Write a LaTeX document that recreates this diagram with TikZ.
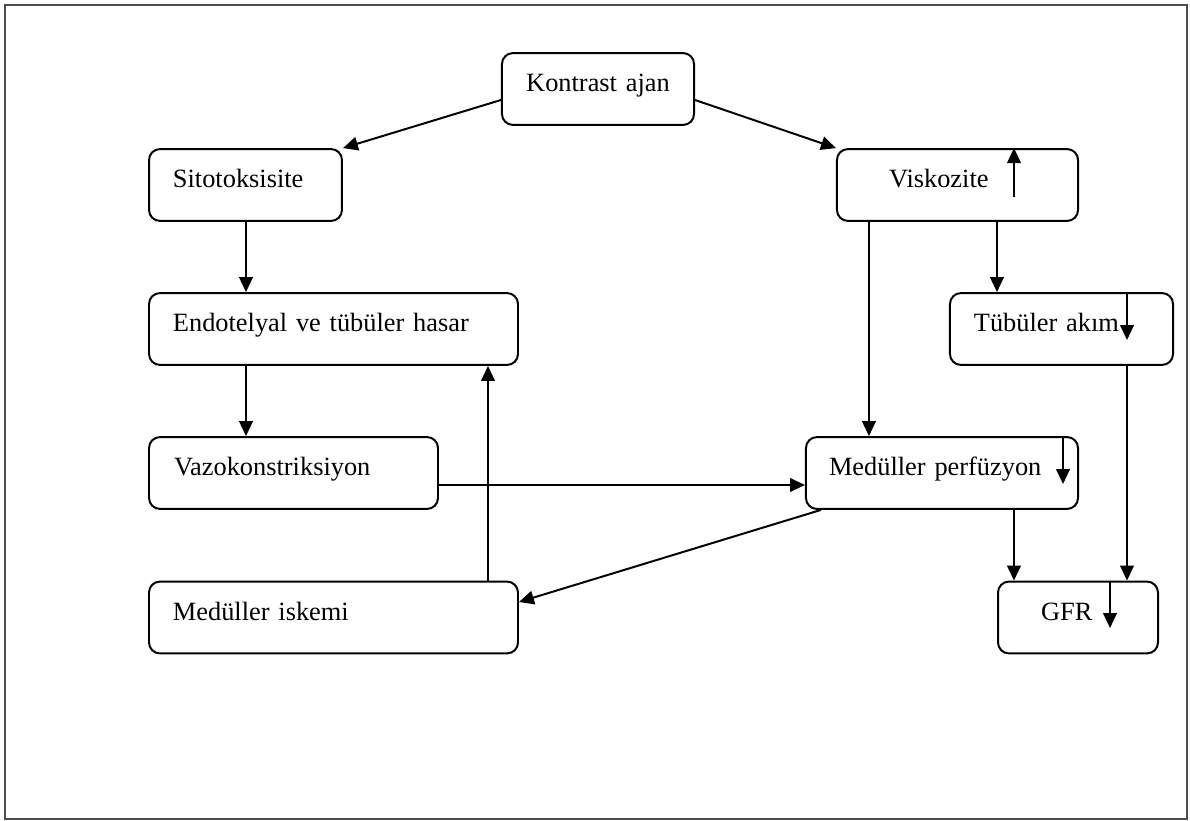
\documentclass[tikz,border=0pt]{standalone}
\usepackage{fontspec}
\setmainfont{Liberation Serif}
\usetikzlibrary{arrows.meta, calc, positioning}
\tikzset{
    boxnode/.style 2 args = {draw, rectangle, rounded corners=5pt, line width=0.9pt,
      minimum height=32.7pt, inner xsep=#1, text width=#2, align=left,
      text height=6.5pt, text depth=4pt, font=\fontsize{12}{14}\selectfont},
    connect/.style = {black, line width=0.9pt, -{Triangle[length=6.8pt, width=6.2pt]}},
    framebox/.style = {draw=black!70, line width=0.6pt}
}

\begin{document}
\begin{tikzpicture}[x=0.455pt, y=-0.455pt]
    \useasboundingbox (0,0) rectangle (1190,821);
    \draw[framebox] (5,5) rectangle (1187,819);

    \node[boxnode={10pt}{67.4pt}, align=center, name=kontrast] at (598,89) {Kontrast ajan};
    \node[boxnode={10.9pt}{66pt}, name=sito] at (245.5,185) {Sitotoksisite};
    \node[boxnode={23.7pt}{62.3pt}, name=visko] at (957.5,185) {Viskozite};
    \node[boxnode={10.9pt}{146.1pt}, name=endo] at (333.5,329) {Endotelyal ve tübüler hasar};
    \node[boxnode={10.9pt}{79.7pt}, name=tubuler] at (1061.5,329) {Tübüler akım};
    \node[boxnode={11.4pt}{108.7pt}, name=vazo] at (293.5,473) {Vazokonstriksiyon};
    \node[boxnode={10.5pt}{102.8pt}, name=medperf] at (942,473) {Medüller perfüzyon};
    \node[boxnode={10.9pt}{146.1pt}, name=iskemi] at (333.5,617.5) {Medüller iskemi};
    \node[boxnode={19.6pt}{33.6pt}, name=gfr] at (1078,617.5) {GFR};

    % up / down marks inside the boxes
    \coordinate (viskoup) at (1014,197);
    \draw[connect] (viskoup) -- (viskoup |- visko.north);
    \coordinate (tubx) at (1127,340);
    \draw[connect] (tubx |- tubuler.north) -- (tubx);
    \coordinate (mpx) at (1063,484);
    \draw[connect] (mpx |- medperf.north) -- (mpx);
    \coordinate (gfrx) at (1110,628);
    \draw[connect] (gfrx |- gfr.north) -- (gfrx);

    \draw[connect] ($(kontrast.west)+(0,11)$) -- (sito.north east);
    \draw[connect] ($(kontrast.east)+(0,11)$) -- (visko.north west);
    \coordinate (s1) at ($(sito.south)+(0.5,0)$);
    \draw[connect] (s1) -- (s1 |- endo.north);
    \draw[connect] (s1 |- endo.south) -- (s1 |- vazo.north);

    \coordinate (v1) at ($(visko.south west)+(33,0)$);
    \draw[connect] (v1) -- (v1 |- medperf.north);
    \coordinate (v2) at ($(visko.south west)+(161,0)$);
    \draw[connect] (v2) -- (v2 |- tubuler.north);
    \draw[connect] (tubx |- tubuler.south) -- (tubx |- gfr.north);
    \coordinate (m1) at ($(medperf.south west)+(209,0)$);
    \draw[connect] (m1) -- (m1 |- gfr.north);

    \coordinate (z1) at ($(vazo.east)+(0,12)$);
    \draw[connect] (z1) -- (z1 -| medperf.west);
    \draw[connect] ($(medperf.south west)+(16,0)$) -- ($(iskemi.east)+(0,-15.5)$);
    \coordinate (i1) at ($(iskemi.north east)+(-31,0)$);
    \draw[connect] (i1) -- (i1 |- endo.south);
\end{tikzpicture}
\end{document}
